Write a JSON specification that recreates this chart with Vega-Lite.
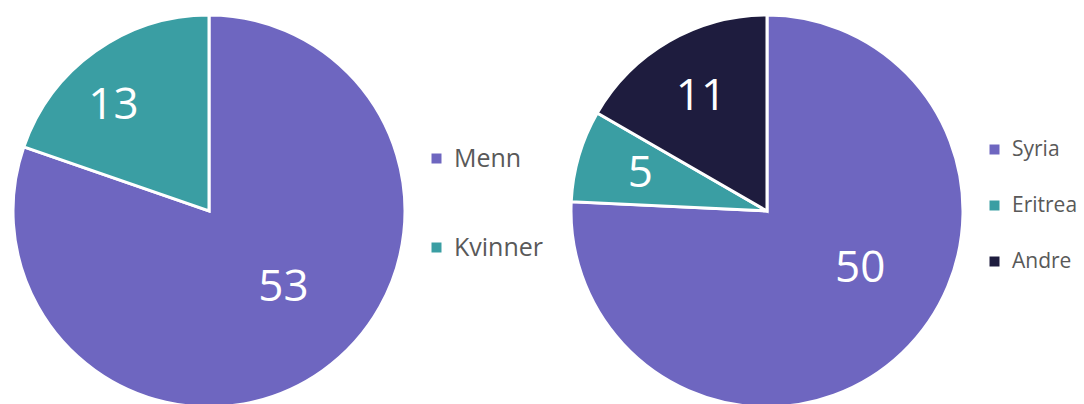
{
  "$schema": "https://vega.github.io/schema/vega-lite/v6.json",
  "background": "white",
  "padding": {"left": 0, "top": 9, "right": 0, "bottom": 0},
  "config": {
    "view": {"stroke": null},
    "font": "Open Sans",
    "concat": {"spacing": 21},
    "legend": {
      "title": null,
      "orient": "none",
      "padding": 0,
      "symbolType": "square",
      "symbolStrokeWidth": 0,
      "symbolSize": 100,
      "labelColor": "#595959",
      "labelFont": "Open Sans"
    }
  },
  "datasets": {
    "kjonn": [
      {"kategori": "Menn", "antall": 53, "rekkefolge": 1},
      {"kategori": "Kvinner", "antall": 13, "rekkefolge": 2}
    ],
    "land": [
      {"kategori": "Syria", "antall": 50, "rekkefolge": 1},
      {"kategori": "Eritrea", "antall": 5, "rekkefolge": 2},
      {"kategori": "Andre", "antall": 11, "rekkefolge": 3}
    ]
  },
  "hconcat": [
    {
      "width": 418,
      "height": 384,
      "data": {"name": "kjonn"},
      "encoding": {
        "theta": {"field": "antall", "type": "quantitative", "stack": true},
        "order": {"field": "rekkefolge", "type": "quantitative"}
      },
      "layer": [
        {
          "mark": {"type": "arc", "outerRadius": 196, "stroke": "white", "strokeWidth": 3},
          "encoding": {
            "color": {
              "field": "kategori",
              "type": "nominal",
              "scale": {"domain": ["Menn", "Kvinner"], "range": ["#6E66C0", "#3A9EA3"]},
              "legend": {"legendX": 424, "legendY": 127, "labelFontSize": 25, "rowPadding": 63, "labelOffset": 5}
            }
          }
        },
        {
          "mark": {"type": "text", "radius": 107, "thetaOffset": -0.15, "fontSize": 44, "color": "white", "font": "Open Sans"},
          "encoding": {
            "text": {"condition": {"test": "datum.rekkefolge == 1", "field": "antall", "type": "quantitative"}, "value": ""}
          }
        },
        {
          "mark": {"type": "text", "radius": 142, "thetaOffset": -0.12, "fontSize": 44, "color": "white", "font": "Open Sans"},
          "encoding": {
            "text": {"condition": {"test": "datum.rekkefolge != 1", "field": "antall", "type": "quantitative"}, "value": ""}
          }
        }
      ]
    },
    {
      "width": 392,
      "height": 384,
      "data": {"name": "land"},
      "encoding": {
        "theta": {"field": "antall", "type": "quantitative", "stack": true},
        "order": {"field": "rekkefolge", "type": "quantitative"}
      },
      "layer": [
        {
          "mark": {"type": "arc", "outerRadius": 196, "stroke": "white", "strokeWidth": 3},
          "encoding": {
            "color": {
              "field": "kategori",
              "type": "nominal",
              "scale": {"domain": ["Syria", "Eritrea", "Andre"], "range": ["#6E66C0", "#3A9EA3", "#1E1C3E"]},
              "legend": {"legendX": 413, "legendY": 120, "labelFontSize": 21, "rowPadding": 34, "labelOffset": 7}
            }
          }
        },
        {
          "mark": {"type": "text", "radius": 110, "thetaOffset": -0.25, "fontSize": 44, "color": "white", "font": "Open Sans"},
          "encoding": {
            "text": {"condition": {"test": "datum.rekkefolge == 1", "field": "antall", "type": "quantitative"}, "value": ""}
          }
        },
        {
          "mark": {"type": "text", "radius": 132, "fontSize": 44, "color": "white", "font": "Open Sans"},
          "encoding": {
            "text": {"condition": {"test": "datum.rekkefolge != 1", "field": "antall", "type": "quantitative"}, "value": ""}
          }
        }
      ]
    }
  ],
  "resolve": {"scale": {"color": "independent", "theta": "independent"}}
}
